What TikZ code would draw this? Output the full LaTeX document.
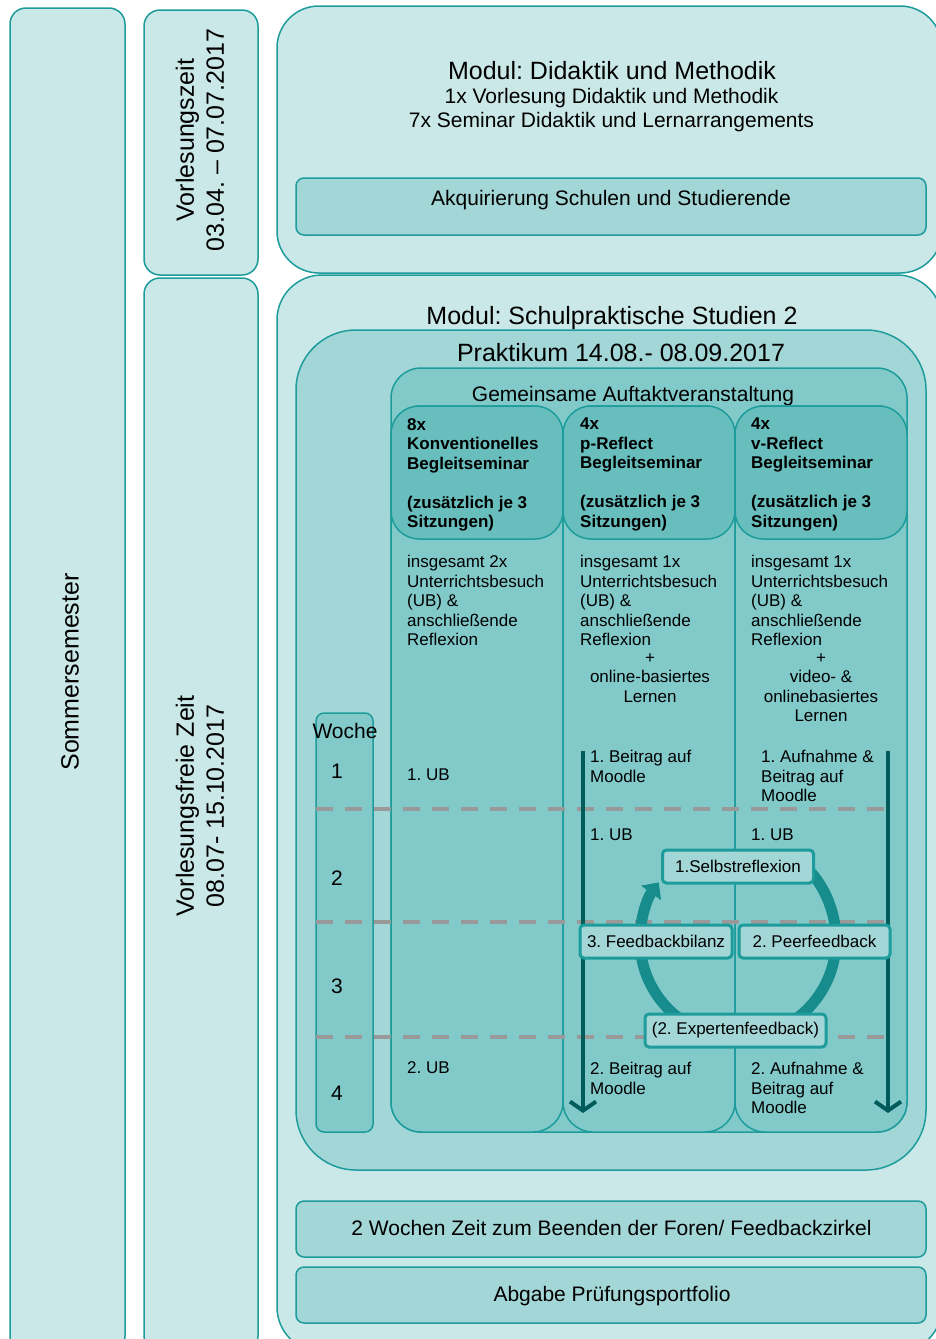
\documentclass[tikz,border=0pt]{standalone}
\usepackage{fontspec}
\setmainfont{Liberation Sans}
\usetikzlibrary{positioning,arrows.meta}
\frenchspacing

\definecolor{paleteal}{HTML}{CBE8E8}
\definecolor{midteal}{HTML}{A3D6D6}
\definecolor{colteal}{HTML}{82CACA}
\definecolor{headteal}{HTML}{68BDBD}
\definecolor{lineteal}{HTML}{1E9C9C}
\definecolor{darkteal}{HTML}{005B5B}
\definecolor{ringteal}{HTML}{178C8C}

\tikzset{
    bigfont/.style={font=\fontsize{25}{30}\selectfont},
    midfont/.style={font=\fontsize{21}{24}\selectfont},
    bodyfont/.style={font=\fontsize{17}{19.5}\selectfont},
    panel/.style={draw=lineteal, line width=1.5pt},
    bodytext/.style={bodyfont, inner sep=0pt, align=left},
    headtext/.style={font=\fontsize{17}{19.5}\selectfont\bfseries, inner sep=0pt, align=left},
    stagebox/.style={draw=lineteal, line width=3pt, fill=midteal, rounded corners=4pt,
        bodyfont, minimum height=33pt, inner sep=2pt},
    weekline/.style={draw=black!40, line width=4pt, dash pattern=on 17pt off 12pt},
    flow/.style={draw=darkteal, line width=4pt, -{Straight Barb[length=9pt,width=26pt]}},
    ring/.style={draw=ringteal, line width=11pt}
}

\begin{document}
\begin{tikzpicture}[x=1pt, y=-1pt]
    \useasboundingbox (0,0) rectangle (936,1339);
    \clip (0,0) rectangle (936,1339);

    % Draw the time columns on the left
    \draw[panel, fill=paleteal, rounded corners=16pt] (10,8) rectangle (125,1352);
    \draw[panel, fill=paleteal, rounded corners=16pt] (144,10) rectangle (258,275);
    \draw[panel, fill=paleteal, rounded corners=16pt] (144,278) rectangle (258,1352);
    \node[bigfont, rotate=90] (sommer) at (70,672) {Sommersemester};
    \node[bigfont, rotate=90, align=center] (vlzeit) at (200,140) {Vorlesungszeit\\03.04. – 07.07.2017};
    \node[bigfont, rotate=90, align=center] (vlfrei) at (200,806) {Vorlesungsfreie Zeit\\08.07- 15.10.2017};

    % Modul Didaktik und Methodik
    \draw[panel, fill=paleteal, rounded corners=42pt] (277,6) rectangle (942,273);
    \node[bigfont, anchor=base] (didaktik) at (612,79) {Modul: Didaktik und Methodik};
    \node[midfont, anchor=base, align=center] (vorlesung) at (611.5,103.5) {1x Vorlesung Didaktik und Methodik};
    \node[midfont, anchor=base] (seminar) at (611.5,127.5) {7x Seminar Didaktik und Lernarrangements};
    \draw[panel, fill=midteal, rounded corners=8pt] (296,178) rectangle (926,235);
    \node[midfont, anchor=base] (akq) at (611,205.5) {Akquirierung Schulen und Studierende};

    % Modul Schulpraktische Studien 2
    \draw[panel, fill=paleteal, rounded corners=45pt] (277,275) rectangle (942,1352);
    \node[bigfont, anchor=base] (sps) at (612,324) {Modul: Schulpraktische Studien 2};
    \draw[panel, fill=midteal, rounded corners=60pt] (296,330) rectangle (926,1170);
    \node[bigfont, anchor=base] (praktikum) at (621,361) {Praktikum 14.08.- 08.09.2017};
    \draw[panel, fill=colteal, rounded corners=30pt] (391,368) rectangle (907,1132);
    \node[midfont, anchor=base] (auftakt) at (633,401.5) {Gemeinsame Auftaktveranstaltung};

    % Three seminar columns with their headers
    \foreach \xl/\xr in {391/563, 563/735, 735/907} {
        \draw[panel, fill=colteal, rounded corners=30pt] (\xl,406) rectangle (\xr,1132);
        \draw[panel, fill=headteal, rounded corners=28pt] (\xl,406) rectangle (\xr,539);
    }
    \node[headtext, anchor=north west] (head1) at (407,418) {8x\\Konventionelles\\Begleitseminar\\[19.5pt](zusätzlich je 3\\Sitzungen)};
    \node[headtext, anchor=north west] (head2) at (580,418) {4x\\p-Reflect\\Begleitseminar\\[19.5pt](zusätzlich je 3\\Sitzungen)};
    \node[headtext, anchor=north west] (head3) at (751,418) {4x\\v-Reflect\\Begleitseminar\\[19.5pt](zusätzlich je 3\\Sitzungen)};

    \node[bodytext, anchor=north west] (body1) at (407,555) {insgesamt 2x\\Unterrichtsbesuch\\(UB) \&\\anschließende\\Reflexion};
    \node[bodytext, anchor=north west] (body2) at (580,555) {insgesamt 1x\\Unterrichtsbesuch\\(UB) \&\\anschließende\\Reflexion};
    \node[bodytext, align=center, anchor=north] (extra2) at (650,653) {+\\online-basiertes\\Lernen};
    \node[bodytext, anchor=north west] (body3) at (751,555) {insgesamt 1x\\Unterrichtsbesuch\\(UB) \&\\anschließende\\Reflexion};
    \node[bodytext, align=center, anchor=north] (extra3) at (821,653) {+\\video- \&\\onlinebasiertes\\Lernen};

    % Week scale
    \draw[panel, fill=colteal, rounded corners=8pt] (316,713) rectangle (373,1132);
    \node[midfont] (woche) at (345,731) {Woche};
    \foreach \w/\y in {1/771, 2/878, 3/986, 4/1093}
        \node[midfont] (week\w) at (337,\y) {\w};

    % Week separators
    \foreach \y in {809, 922, 1037}
        \draw[weekline] (316,\y) -- (890,\y);

    % Week entries
    \node[bodytext, anchor=base west] (ub1a) at (407,780) {1. UB};
    \node[bodytext, anchor=base west] (ub2a) at (407,1073) {2. UB};
    \node[bodytext, anchor=north west] (post1) at (590,750) {1. Beitrag auf\\Moodle};
    \node[bodytext, anchor=base west] (ub1b) at (590,840) {1. UB};
    \node[bodytext, anchor=north west] (post2) at (590,1062) {2. Beitrag auf\\Moodle};
    \node[bodytext, anchor=north west] (rec1) at (761,750) {1. Aufnahme \&\\Beitrag auf\\Moodle};
    \node[bodytext, anchor=base west] (ub1c) at (751,840) {1. UB};
    \node[bodytext, anchor=north west] (rec2) at (751,1062) {2. Aufnahme \&\\Beitrag auf\\Moodle};

    % Time arrows
    \coordinate (ptop) at (583,751);
    \coordinate (pbot) at (583,1113);
    \coordinate (vtop) at (888,751);
    \coordinate (vbot) at (888,1113);
    \draw[flow] (ptop) -- (pbot);
    \draw[flow] (vtop) -- (vbot);

    % Feedback cycle
    \coordinate (hub) at (738,940);
    \draw[ring, -{Triangle[length=13pt,width=24pt]}] (hub) ++(90:98) arc[start angle=90, end angle=216, radius=98];
    \draw[ring, -{Triangle[length=13pt,width=24pt]}] (hub) ++(90:98) arc[start angle=90, end angle=-62, radius=98];
    \node[stagebox, minimum width=151pt] (selbst) at (738,866.5) {1.Selbstreflexion};
    \node[stagebox, minimum width=152pt] (bilanz) at (656,941.5) {3. Feedbackbilanz};
    \node[stagebox, minimum width=151pt] (peer) at (814.5,941.5) {2. Peerfeedback};
    \node[stagebox, minimum width=181pt] (experten) at (735.5,1030.5) {(2. Expertenfeedback)};

    % Closing boxes
    \draw[panel, fill=midteal, rounded corners=8pt] (296,1201) rectangle (926,1257);
    \node[midfont, anchor=base] (foren) at (611.5,1235.5) {2 Wochen Zeit zum Beenden der Foren/ Feedbackzirkel};
    \draw[panel, fill=midteal, rounded corners=8pt] (296,1267) rectangle (926,1323);
    \node[midfont, anchor=base] (abgabe) at (612,1301.5) {Abgabe Prüfungsportfolio};
\end{tikzpicture}
\end{document}
